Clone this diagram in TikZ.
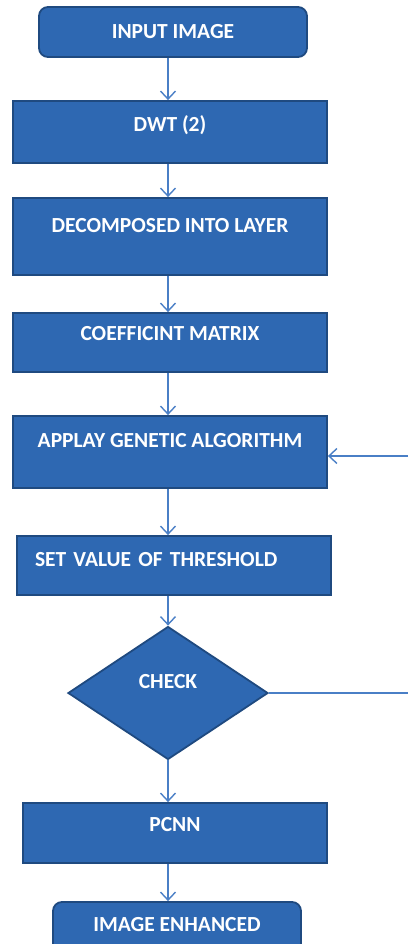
\documentclass[tikz,border=0pt]{standalone}
\usepackage{fontspec}
\setmainfont{Carlito}
\usetikzlibrary{shapes.geometric,arrows.meta}
\definecolor{boxblue}{HTML}{2E68B2}
\definecolor{edgeblue}{HTML}{1F4A80}
\definecolor{lineblue}{HTML}{4A7FC6}
\tikzset{
  block/.style={draw=edgeblue, fill=boxblue, line width=1.8pt, inner sep=0pt,
    text=white, font=\fontsize{21.5}{24}\selectfont\bfseries},
  flow/.style={draw=lineblue, line width=1.4pt, -{Straight Barb[length=8pt,width=15pt,line width=1.4pt]}},
  plain/.style={draw=lineblue, line width=1.4pt}
}
\begin{document}
\begin{tikzpicture}[x=1pt,y=-1pt]
        \useasboundingbox (0,0) rectangle (408,944);
        \node[block, rounded corners=9pt, minimum width=268pt, text height=32pt, text depth=18pt](input) at (173,32) {INPUT IMAGE};
        \node[block, minimum width=314pt, text height=31pt, text depth=31pt](dwt) at (170,132) {DWT (2)};
        \node[block, minimum width=314pt, text height=34pt, text depth=43pt](decomp) at (170,236.5) {DECOMPOSED INTO LAYER};
        \node[block, minimum width=314pt, text height=27pt, text depth=32pt](coef) at (170,342.5) {COEFFICINT MATRIX};
        \node[block, minimum width=314pt, text height=31pt, text depth=41pt](applay) at (170,452) {APPLAY GENETIC ALGORITHM};
        \node[block, minimum width=314pt, text height=30pt, text depth=29pt, inner xsep=18pt, text width=278pt, align=left](setval) at (174,565.5) {SET VALUE OF THRESHOLD};
        \node[block, diamond, minimum width=200pt, minimum height=133pt, text height=11pt, text depth=21pt](chk) at (168,693) {CHECK};
        \node[block, minimum width=304pt, text height=28pt, text depth=32pt](pcnn) at (175,833) {PCNN};
        \node[block, rounded corners=9pt, minimum width=248pt, text height=29pt, text depth=31pt](enh) at (177,932) {IMAGE ENHANCED};
        \coordinate(r1) at (408,693);
        \coordinate(r2) at (408,456);
        \draw[flow](input.south -| chk)--(dwt.north -| chk);
        \draw[flow](dwt.south -| chk)--(decomp.north -| chk);
        \draw[flow](decomp.south -| chk)--(coef.north -| chk);
        \draw[flow](coef.south -| chk)--(applay.north -| chk);
        \draw[flow](applay.south -| chk)--(setval.north -| chk);
        \draw[flow](setval.south -| chk)--(chk.north);
        \draw[flow](chk.south)--(pcnn.north -| chk);
        \draw[flow](pcnn.south -| chk)--(enh.north -| chk);
        \draw[plain](chk.east)--(r1);
        \draw[flow](r2)--(r2 -| applay.east);
        \end{tikzpicture}
\end{document}
